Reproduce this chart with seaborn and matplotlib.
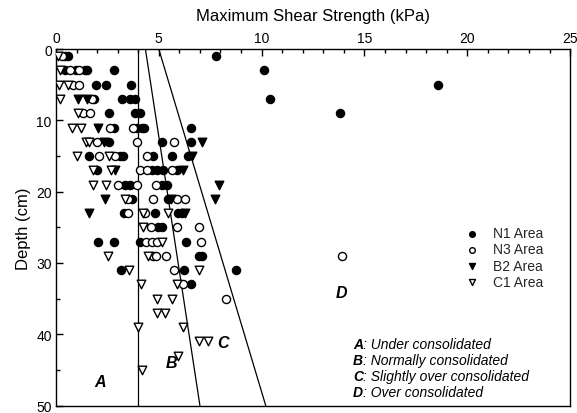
import matplotlib
matplotlib.use("Agg")
import matplotlib.pyplot as plt
import seaborn as sns
from matplotlib.ticker import MultipleLocator

sns.set_theme(style="ticks")
plt.rcParams["font.family"] = ["Liberation Sans", "DejaVu Sans"]

# ---- vane shear measurements: depth (cm) and maximum shear strength (kPa) ----
n1_depth = [1, 1, 1, 3, 3, 3, 3, 3, 3, 5, 5, 5, 5, 7, 7, 7, 7, 7, 9, 9, 9, 9,
            11, 11, 11, 11, 11, 13, 13, 13, 15, 15, 15, 15, 15, 15,
            17, 17, 17, 17, 17, 19, 19, 19, 19, 21, 21, 23, 23, 23, 23,
            25, 25, 27, 27, 27, 27, 29, 29, 31, 31, 31, 33]
n1_strength = [0.45, 0.6, 7.8, 0.45, 0.95, 1.4, 1.5, 2.8, 10.1,
               1.93, 2.43, 3.65, 18.6, 1.85, 3.2, 3.6, 3.85, 10.4,
               2.6, 3.85, 4.1, 13.8, 2.8, 3.92, 4.17, 4.3, 6.56,
               2.6, 5.17, 6.55, 1.62, 3.11, 3.27, 4.7, 5.66, 6.43,
               1.98, 4.65, 4.9, 5.19, 5.87, 3.35, 3.6, 5.14, 5.38,
               3.68, 5.46, 3.3, 4.81, 5.95, 6.11, 4.98, 5.14,
               2.06, 2.82, 4.08, 6.3, 6.97, 7.08, 3.14, 6.24, 8.77, 6.56]

n3_depth = [1, 3, 3, 5, 5, 7, 9, 9, 11, 11, 13, 13, 13, 15, 15, 15,
            17, 17, 17, 19, 19, 19, 21, 21, 21, 21, 23, 23, 25, 25, 25,
            27, 27, 27, 27, 29, 29, 29, 29, 31, 33, 35]
n3_strength = [0.3, 0.7, 1.1, 0.85, 1.1, 1.73, 1.3, 1.65, 2.63, 3.76,
               1.98, 3.92, 5.74, 2.09, 2.87, 4.41, 4.08, 4.41, 5.62,
               3.03, 3.92, 4.86, 3.52, 4.73, 5.87, 6.27, 3.52, 4.33,
               4.6, 5.9, 6.97, 4.36, 4.65, 4.89, 7.03, 4.73, 4.86, 5.35,
               13.9, 5.74, 6.19, 8.27]

b2_depth = [7, 7, 11, 13, 13, 15, 17, 17, 19, 21, 21, 21, 23, 23]
b2_strength = [1.05, 1.52, 2.06, 2.33, 7.08, 6.6, 2.87, 6.19, 7.93,
               2.38, 5.6, 7.73, 1.62, 6.27]

c1_depth = [1, 3, 5, 5, 7, 9, 11, 11, 13, 13, 15, 15, 17, 17, 19, 19,
            21, 23, 23, 25, 27, 29, 29, 31, 31, 33, 33, 35, 35, 37, 37,
            39, 39, 41, 41, 43, 45]
c1_strength = [0.1, 0.2, 0.16, 0.6, 0.2, 1.09, 0.76, 1.2, 1.46, 1.62,
               1.04, 2.59, 1.82, 2.66, 1.82, 2.43, 3.35, 4.21, 5.43,
               4.21, 5.17, 2.54, 4.46, 3.57, 6.97, 4.12, 5.87, 4.89,
               5.62, 4.89, 5.3, 4.0, 6.19, 6.95, 7.4, 5.95, 4.17]

# consolidation boundary lines: strength at the top (0 cm) and bottom (50 cm)
boundary_depth = [0, 50]
boundary_ab = [4.0, 4.0]
boundary_bc = [4.35, 7.0]
boundary_cd = [5.0, 10.2]

x_ticks = [0, 5, 10, 15, 20, 25]
y_ticks = [0, 10, 20, 30, 40, 50]

fig = plt.figure(figsize=(5.77, 4.14), dpi=100)
ax = fig.add_axes([0.097, 0.018, 0.891, 0.861])

series = [
    ("N1 Area", n1_strength, n1_depth, "o", "black", 34),
    ("N3 Area", n3_strength, n3_depth, "o", "white", 34),
    ("B2 Area", b2_strength, b2_depth, "v", "black", 38),
    ("C1 Area", c1_strength, c1_depth, "v", "white", 38),
]
for label, xs, ys, marker, face, size in series:
    sns.scatterplot(x=xs, y=ys, marker=marker, color=face, edgecolor="black",
                    linewidth=1.0, s=size, label=label, ax=ax, zorder=3)

for xs in (boundary_ab, boundary_bc, boundary_cd):
    ax.plot(xs, boundary_depth, color="black", lw=0.9, zorder=2)

ax.set_xlim(0, 25)
ax.set_ylim(50, 0)
ax.xaxis.tick_top()
ax.xaxis.set_label_position("top")
ax.set_xticks(x_ticks)
ax.set_yticks(y_ticks)
ax.xaxis.set_minor_locator(MultipleLocator(1))
ax.yaxis.set_minor_locator(MultipleLocator(5))
ax.tick_params(which="both", direction="in", color="black", width=1.0,
               labelsize=10, labelcolor="black")
ax.tick_params(which="major", length=5, pad=3)
ax.tick_params(which="minor", length=3)
ax.tick_params(axis="x", bottom=False, top=True, which="both")
ax.tick_params(axis="y", left=True, right=False, which="both")
for side in ["top", "bottom", "left", "right"]:
    ax.spines[side].set_visible(True)
    ax.spines[side].set_color("black")
    ax.spines[side].set_linewidth(1.0)

ax.set_xlabel("Maximum Shear Strength (kPa)", fontsize=12, labelpad=8, color="black")
ax.set_ylabel("Depth (cm)", fontsize=12, labelpad=4, color="black")

# region letters
region_font = dict(fontsize=11.5, fontweight="bold", fontstyle="italic",
                   ha="center", va="center", color="black")
ax.text(2.14, 46.6, "A", **region_font)
ax.text(5.63, 43.9, "B", **region_font)
ax.text(8.14, 41.1, "C", **region_font)
ax.text(13.86, 34.2, "D", **region_font)

# key to the regions
key_rows = [("A", ": Under consolidated", 41.3),
            ("B", ": Normally consolidated", 43.6),
            ("C", ": Slightly over consolidated", 45.8),
            ("D", ": Over consolidated", 48.1)]
for letter, desc, yy in key_rows:
    t = ax.text(14.45, yy, letter, fontsize=10, fontweight="bold",
                fontstyle="italic", ha="left", va="center", color="black")
    ax.annotate(desc, xy=(1, 0.5), xycoords=t, ha="left", va="center",
                fontsize=10, fontstyle="italic", color="black")

leg = ax.legend(loc="upper left", bbox_to_anchor=(0.775, 0.53), frameon=False,
                fontsize=10, markerscale=0.7, handletextpad=0.9,
                labelspacing=0.15, borderpad=0.2, handlelength=1.2)

fig.savefig("out.png", dpi=100)
